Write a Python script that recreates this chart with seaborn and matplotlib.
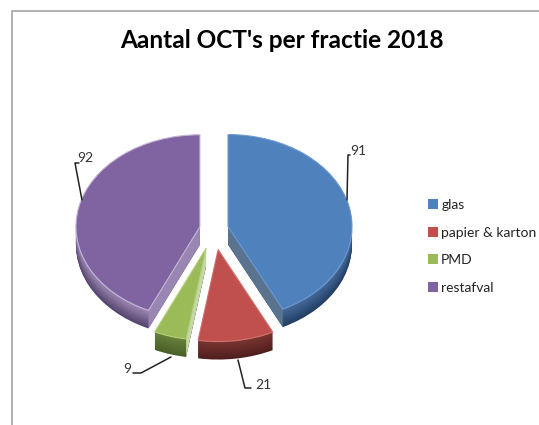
#!/usr/bin/env python

import numpy as np
import matplotlib
matplotlib.use("Agg")
import matplotlib.pyplot as plt
import seaborn as sns

categories = ["glas", "papier & karton", "PMD", "restafval"]
values = [91, 21, 9, 92]
value_labels = ["91", "21", "9", "92"]

top_colors = ["#4f81bd", "#c0504d", "#9bbb59", "#8064a2"]
edge_colors = ["#6f9ad0", "#d27370", "#b5d07c", "#c5b8d6"]
rim_tops = ["#44699a", "#7a3431", "#66803a", "#9a86b2"]
rim_bottoms = ["#233f63", "#4f1f1d", "#4a5f28", "#55446e"]
cut_colors = ["#5a738f", None, "#c5d6a8", "#9a86b2"]

sns.set_theme(style="white")
plt.rcParams["font.family"] = ["Lato", "DejaVu Sans"]

W, H = 539, 425
squash = 0.742  # pie is tilted: y pixels per data unit
radius = 124
depth = 18
cx, cy = 214, 229
explode = [14.4, 28, 27, 14.4]

fig = plt.figure(figsize=(W / 100, H / 100), dpi=100)
ax = fig.add_axes([0, 0, 1, 1])


def py(y):
    return (H - y) / squash


# rim, stacked from the bottom up
ramps = [sns.blend_palette([b, t], depth) for b, t in zip(rim_bottoms, rim_tops)]
for i in range(depth):
    shift = depth - i
    ax.pie(values, colors=[r[i] for r in ramps], radius=radius, explode=explode,
           center=(cx, py(cy + shift)), startangle=90, counterclock=False,
           wedgeprops={"linewidth": 0})

# top face, cut faces go in just below it
wedges, _ = ax.pie(values, colors=top_colors, radius=radius, explode=explode,
                   center=(cx, py(cy)), startangle=90, counterclock=False,
                   wedgeprops={"linewidth": 0.8, "zorder": 5})
for w, ec, cut in zip(wedges, edge_colors, cut_colors):
    w.set_edgecolor(ec)
    if cut is None:
        continue
    # end of the wedge that looks towards the viewer
    a = min(np.radians(w.theta1), np.radians(w.theta2), key=np.sin)
    x0, y0 = w.center
    x1, y1 = x0 + radius * np.cos(a), y0 + radius * np.sin(a)
    dy = depth / squash
    ax.fill([x0, x1, x1, x0], [y0, y1, y1 - dy, y0 - dy], color=cut, lw=0, zorder=4)

ax.set_aspect("auto")
ax.set_xlim(0, W)
ax.set_ylim(0, H / squash)
ax.axis("off")

# chart frame
ax.plot([12, 12, W], [py(H), py(11), py(11)], color="#a3a3a3", lw=1.2, clip_on=False)

ax.text(281.5, py(41), "Aantal OCT's per fractie 2018", ha="center", va="center",
        fontsize=17.6, fontweight="bold", color="black")

# leader lines and value labels
leaders = [
    ([347, 348, 350], [200, 155, 155]),
    ([238, 245, 251], [360, 388, 388]),
    ([171, 141, 133], [357, 373, 373]),
    ([82, 75, 79], [200, 163, 163]),
]
label_pos = [(358, 151), (263, 385), (127, 369), (85, 158)]
for (xs, ys), (lx, ly), txt in zip(leaders, label_pos, value_labels):
    ax.plot(xs, [py(v) for v in ys], color="#222222", lw=1.1, zorder=6)
    ax.text(lx, py(ly), txt, ha="center", va="center", fontsize=10,
            color="#333333", zorder=7)

leg = ax.legend(wedges, categories, loc="upper left",
                bbox_to_anchor=(428 / W, 1 - 199 / H), frameon=False, fontsize=10,
                handlelength=0.75, handleheight=0.75, handletextpad=0.2,
                labelspacing=1.12, borderpad=0, borderaxespad=0, labelcolor="#222222")
for h in leg.legend_handles:
    h.set_edgecolor("none")

fig.savefig("out.png", dpi=100)
plt.close(fig)
